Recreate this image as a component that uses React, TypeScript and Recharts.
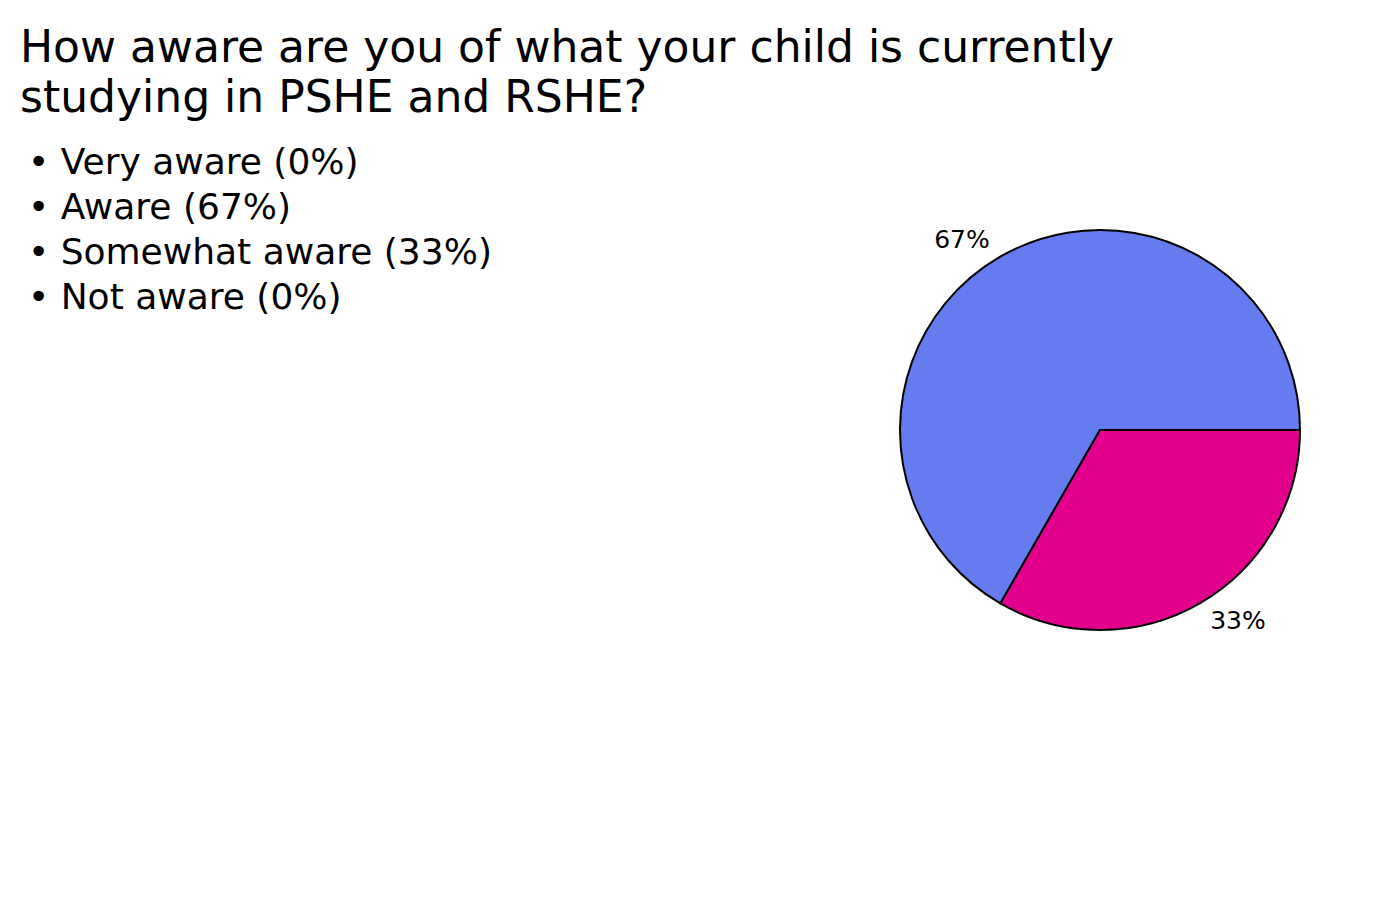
import { PieChart, Pie, Cell } from 'recharts';

const title = [
  'How aware are you of what your child is currently',
  'studying in PSHE and RSHE?',
];
const categories = ['Very aware', 'Aware', 'Somewhat aware', 'Not aware'];
const values = [0, 66.7, 33.3, 0];
const colors = ['#f2c10f', '#647cf0', '#e3008c', '#3cb44b'];

const pieData = categories
  .map((name, i) => ({ name, value: values[i], color: colors[i] }))
  .filter((d) => d.value > 0);

const RAD = Math.PI / 180;

function renderLabel(props: any) {
  const { cx, cy, midAngle, outerRadius, percent } = props;
  const r = outerRadius * 1.1;
  const x = cx + r * Math.cos(-midAngle * RAD);
  const y = cy + r * Math.sin(-midAngle * RAD);
  return (
    <text
      x={x}
      y={y}
      fill="#000"
      fontSize={25}
      fontFamily="DejaVu Sans"
      textAnchor={x < cx ? 'end' : 'start'}
      dominantBaseline="central"
    >
      {`${Math.round(percent * 100)}%`}
    </text>
  );
}

export default function App() {
  return (
    <div style={{ position: 'fixed', left: 0, top: 0, width: 1400, height: 900, background: '#fff' }}>
      <PieChart width={1400} height={900} margin={{ top: 0, right: 0, bottom: 0, left: 0 }}>
        <Pie
          data={pieData}
          dataKey="value"
          nameKey="name"
          cx={1100}
          cy={430}
          outerRadius={200}
          startAngle={0}
          endAngle={360}
          stroke="#000"
          strokeWidth={2}
          label={renderLabel}
          labelLine={false}
          isAnimationActive={false}
        >
          {pieData.map((d) => (
            <Cell key={d.name} fill={d.color} />
          ))}
        </Pie>
      </PieChart>
      <svg
        width={1400}
        height={900}
        style={{ position: 'absolute', left: 0, top: 0, pointerEvents: 'none' }}
      >
        {title.map((line, i) => (
          <text key={line} x={20} y={62 + i * 50} fontSize={44} fontFamily="DejaVu Sans" fill="#000">
            {line}
          </text>
        ))}
        {categories.map((name, i) => (
          <text key={name} x={28} y={174 + i * 45} fontSize={36} fontFamily="DejaVu Sans" fill="#000">
            {`• ${name} (${Math.round(values[i])}%)`}
          </text>
        ))}
      </svg>
    </div>
  );
}
